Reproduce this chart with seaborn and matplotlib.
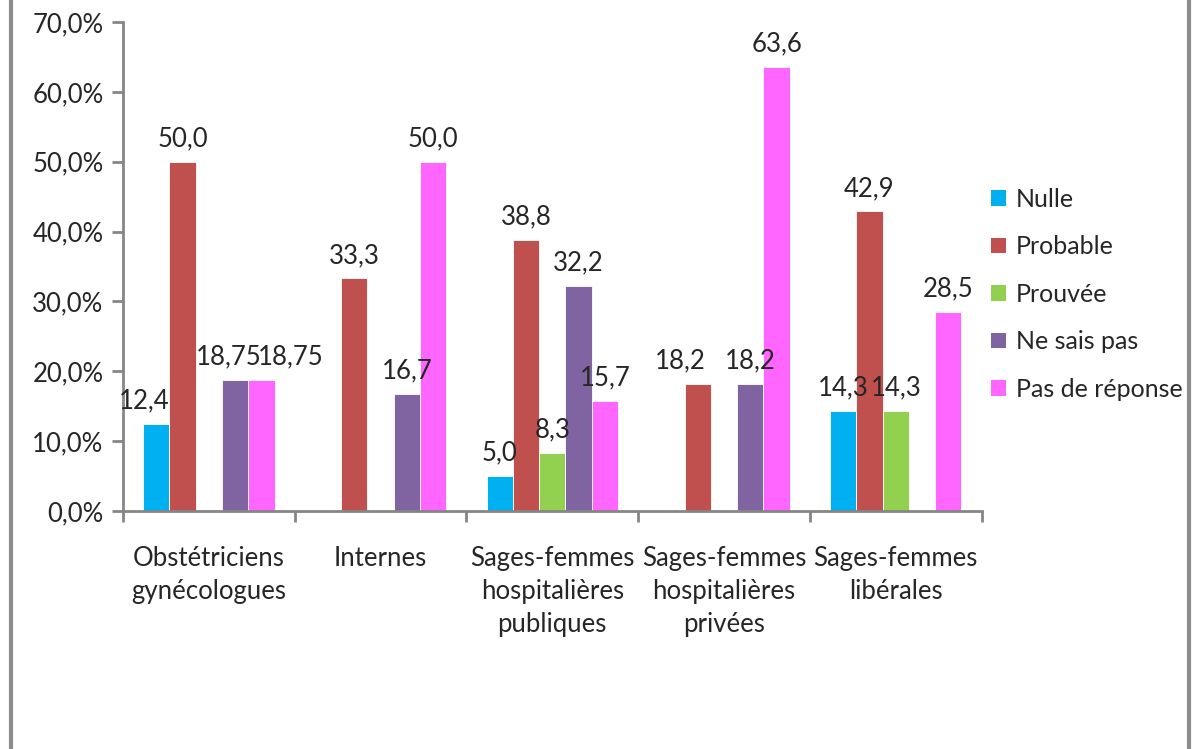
import matplotlib
matplotlib.use("Agg")
import matplotlib.pyplot as plt
import matplotlib.ticker as mticker
from matplotlib.lines import Line2D
from matplotlib.patches import Patch
import numpy as np
import pandas as pd
import seaborn as sns

# ── Data ────────────────────────────────────────────────────────────────────
categories = ["Obstétriciens\ngynécologues", "Internes",
              "Sages-femmes\nhospitalières\npubliques",
              "Sages-femmes\nhospitalières\nprivées",
              "Sages-femmes\nlibérales"]
series = ["Nulle", "Probable", "Prouvée", "Ne sais pas", "Pas de réponse"]
nulle       = [12.4, np.nan, 5.0, np.nan, 14.3]
probable    = [50.0, 33.3, 38.8, 18.2, 42.9]
prouvee     = [np.nan, np.nan, 8.3, np.nan, 14.3]
ne_sais_pas = [18.75, 16.7, 32.2, 18.2, np.nan]
pas_reponse = [18.75, 50.0, 15.7, 63.6, 28.5]
y_ticks = [0, 10, 20, 30, 40, 50, 60, 70]

COLORS = ["#00B0F0", "#C0504D", "#92D050", "#8064A2", "#FF66FF"]
AXIS_GREY = "#868686"

rows = []
for name, vals in zip(series, [nulle, probable, prouvee, ne_sais_pas, pas_reponse]):
    for cat, v in zip(categories, vals):
        rows.append({"categorie": cat, "serie": name, "valeur": v})
df = pd.DataFrame(rows)

# ── Style ───────────────────────────────────────────────────────────────────
sns.set_theme(style="white")
plt.rcParams["font.family"] = ["Lato", "DejaVu Sans"]
FS = 18.5

fig = plt.figure(figsize=(12, 7.49), dpi=100)
ax = fig.add_axes([0.1025, 0.318, 0.7155, 0.6525])

sns.barplot(data=df, x="categorie", y="valeur", hue="serie",
            order=categories, hue_order=series, palette=COLORS,
            width=0.765, saturation=1, errorbar=None, legend=False,
            edgecolor="white", linewidth=0.6, ax=ax)

# value labels (small x nudges where Excel moved overlapping labels)
nudge = {("Obstétriciens\ngynécologues", "Nulle"): -0.07,
         ("Obstétriciens\ngynécologues", "Ne sais pas"): -0.04,
         ("Obstétriciens\ngynécologues", "Pas de réponse"): 0.17,
         ("Sages-femmes\nhospitalières\nprivées", "Probable"): -0.1,
         ("Sages-femmes\nlibérales", "Nulle"): -0.05,
         ("Sages-femmes\nlibérales", "Prouvée"): 0.09}
for cont, name in zip(ax.containers, series):
    for bar, cat in zip(cont.patches, categories):
        h = bar.get_height()
        if np.isnan(h):
            continue
        txt = f"{h:.2f}".rstrip("0")
        txt = (txt + "0" if txt.endswith(".") else txt).replace(".", ",")
        x = bar.get_x() + bar.get_width() / 2 + nudge.get((cat, name), 0)
        ax.text(x, h + 1.5, txt, ha="center", va="bottom", fontsize=FS)

# ── Axes ────────────────────────────────────────────────────────────────────
ax.set_ylim(0, 70)
ax.set_xlim(-0.5, len(categories) - 0.5)
ax.set_yticks(y_ticks)
ax.yaxis.set_major_formatter(mticker.FuncFormatter(
    lambda v, _: f"{v:.1f}%".replace(".", ",")))
ax.set_xlabel("")
ax.set_ylabel("")
ax.tick_params(axis="y", which="major", left=True, length=8, width=2,
               color=AXIS_GREY, labelsize=FS, pad=6)
ax.tick_params(axis="x", which="major", bottom=False, labelsize=FS, pad=19)
ax.set_xticks(np.arange(-0.5, len(categories)), minor=True)
ax.tick_params(axis="x", which="minor", bottom=True, length=8, width=2,
               color=AXIS_GREY)
for lab in ax.get_xticklabels():
    lab.set_linespacing(1.42)
    lab.set_va("top")
for side in ["top", "right"]:
    ax.spines[side].set_visible(False)
for side in ["left", "bottom"]:
    ax.spines[side].set_color(AXIS_GREY)
    ax.spines[side].set_linewidth(2)

# ── Legend ──────────────────────────────────────────────────────────────────
handles = [Patch(facecolor=c, edgecolor="none") for c in COLORS]
fig.legend(handles, series, loc="center left", bbox_to_anchor=(0.807, 0.607),
           frameon=False, fontsize=18, handlelength=0.6, handleheight=0.6,
           handletextpad=0.4, labelspacing=0.98)

# ── Outer frame (Excel chart border) ────────────────────────────────────────
for xf in [0.0095, 0.991]:
    fig.add_artist(Line2D([xf, xf], [0, 1], transform=fig.transFigure,
                          color="#8C8C8C", linewidth=3))

fig.savefig("out.png", dpi=100, facecolor="white")
